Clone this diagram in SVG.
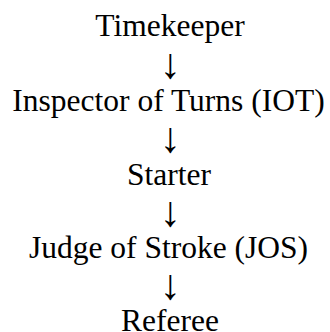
<svg xmlns="http://www.w3.org/2000/svg" width="330" height="332" viewBox="0 0 330 332">
<style>
text { font-family: "Liberation Serif", "Times New Roman", serif; fill: #000; text-anchor: middle; }
.node { font-size: 31.5px; }
.arrow { font-size: 42.5px; }
</style>
<rect width="330" height="332" fill="#fff"/>
<g id="connectors">
<text class="arrow" x="170" y="78">↓</text>
<text class="arrow" x="170" y="152">↓</text>
<text class="arrow" x="170" y="225.5">↓</text>
<text class="arrow" x="170" y="299">↓</text>
</g>
<g id="timekeeper"><text class="node" x="170" y="36">Timekeeper</text></g>
<g id="iot"><text class="node" x="168.5" y="111">Inspector of Turns (IOT)</text></g>
<g id="starter"><text class="node" x="169" y="185">Starter</text></g>
<g id="jos"><text class="node" x="168.5" y="258">Judge of Stroke (JOS)</text></g>
<g id="referee"><text class="node" x="170" y="331">Referee</text></g>
</svg>
